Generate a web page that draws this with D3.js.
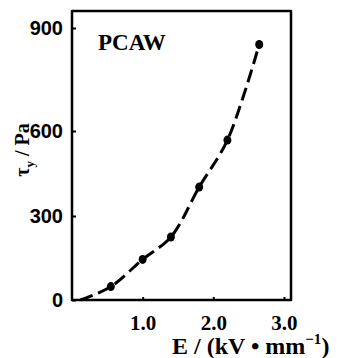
<!DOCTYPE html>
<html>
<head>
<meta charset="utf-8">
<script src="https://cdn.jsdelivr.net/npm/d3@7"></script>
<style>
  body { margin: 0; background: #fff; }
  svg { display: block; }
  .serif { font-family: "Liberation Serif", "Times New Roman", serif; font-weight: bold; }
  .sans { font-family: "Liberation Sans", Arial, sans-serif; font-weight: bold; }
</style>
</head>
<body>
<svg width="339" height="358"></svg>
<script>
(function (d3) {
  "use strict";

  // measured points, PCAW
  const fieldE = [0.55, 1.0, 1.4, 1.8, 2.2, 2.65];
  const yieldStress = [48, 145, 225, 402, 568, 852];

  // the dashed fit, starting on the E axis
  const fitE = [0.12, 0.55, 1.0, 1.4, 1.8, 2.2, 2.65];
  const fitTau = [0, 48, 145, 225, 402, 568, 852];

  const xTicks = [1.0, 2.0, 3.0];
  const yTicks = [0, 300, 600, 900];

  const svg = d3.select("svg");

  const left = 72, top = 11, right = 291, bottom = 300;

  const xScale = d3.scaleLinear().domain([0, 3.1]).range([left, right]);
  // the scanned figure is stretched unevenly, so y is piecewise
  const yScale = d3.scaleLinear().domain(yTicks).range([bottom, 216, 131, 28]);

  // frame
  svg.append("path")
    .attr("d", `M${left},${top}H${right}V${bottom}H${left}Z`)
    .attr("fill", "none")
    .attr("stroke", "#000")
    .attr("stroke-width", 2.5)
    .attr("stroke-linejoin", "round");

  const xAxisG = svg.append("g")
    .attr("transform", `translate(0,${bottom})`)
    .call(d3.axisBottom(xScale).tickValues(xTicks).tickSize(-3).tickPadding(15).tickFormat(d3.format(".1f")));
  xAxisG.select(".domain").remove();
  xAxisG.selectAll("line").attr("stroke-width", 2);
  xAxisG.selectAll("text").attr("class", "serif").attr("font-size", 21).attr("fill", "#000");

  const yAxisG = svg.append("g")
    .attr("transform", `translate(${left},0)`)
    .call(d3.axisLeft(yScale).tickValues(yTicks).tickSize(-4).tickPadding(9));
  yAxisG.select(".domain").remove();
  yAxisG.selectAll("line").attr("stroke-width", 2);
  yAxisG.selectAll("text").attr("class", "sans").attr("font-size", 20).attr("fill", "#000");

  // axis labels
  const yLabel = svg.append("text")
    .attr("class", "serif")
    .attr("font-size", 20)
    .attr("text-anchor", "middle")
    .attr("transform", "translate(29,150) rotate(-90)");
  yLabel.append("tspan").text("τ");
  yLabel.append("tspan").attr("font-size", 13).attr("dy", 5).text("y");
  yLabel.append("tspan").attr("dy", -5).text(" / Pa");

  const xLabel = svg.append("text")
    .attr("class", "serif")
    .attr("font-size", 24)
    .attr("x", 172)
    .attr("y", 354);
  xLabel.append("tspan").text("E / (kV • mm");
  xLabel.append("tspan").attr("font-size", 15).attr("dy", -10).text("−1");
  xLabel.append("tspan").attr("dy", 10).text(")");

  svg.append("text")
    .attr("class", "serif")
    .attr("font-size", 23)
    .attr("x", 98)
    .attr("y", 50)
    .text("PCAW");

  // fitted curve
  const line = d3.line()
    .x((d) => xScale(d))
    .y((d, i) => yScale(fitTau[i]))
    .curve(d3.curveCatmullRom);

  svg.append("path")
    .datum(fitE)
    .attr("d", line)
    .attr("fill", "none")
    .attr("stroke", "#000")
    .attr("stroke-width", 3)
    .attr("stroke-dasharray", "13,6");

  svg.selectAll("ellipse.pt")
    .data(fieldE)
    .enter()
    .append("ellipse")
    .attr("class", "pt")
    .attr("cx", (d) => xScale(d))
    .attr("cy", (d, i) => yScale(yieldStress[i]))
    .attr("rx", 4)
    .attr("ry", 4.5)
    .attr("fill", "#000");
})(d3);
</script>
</body>
</html>
